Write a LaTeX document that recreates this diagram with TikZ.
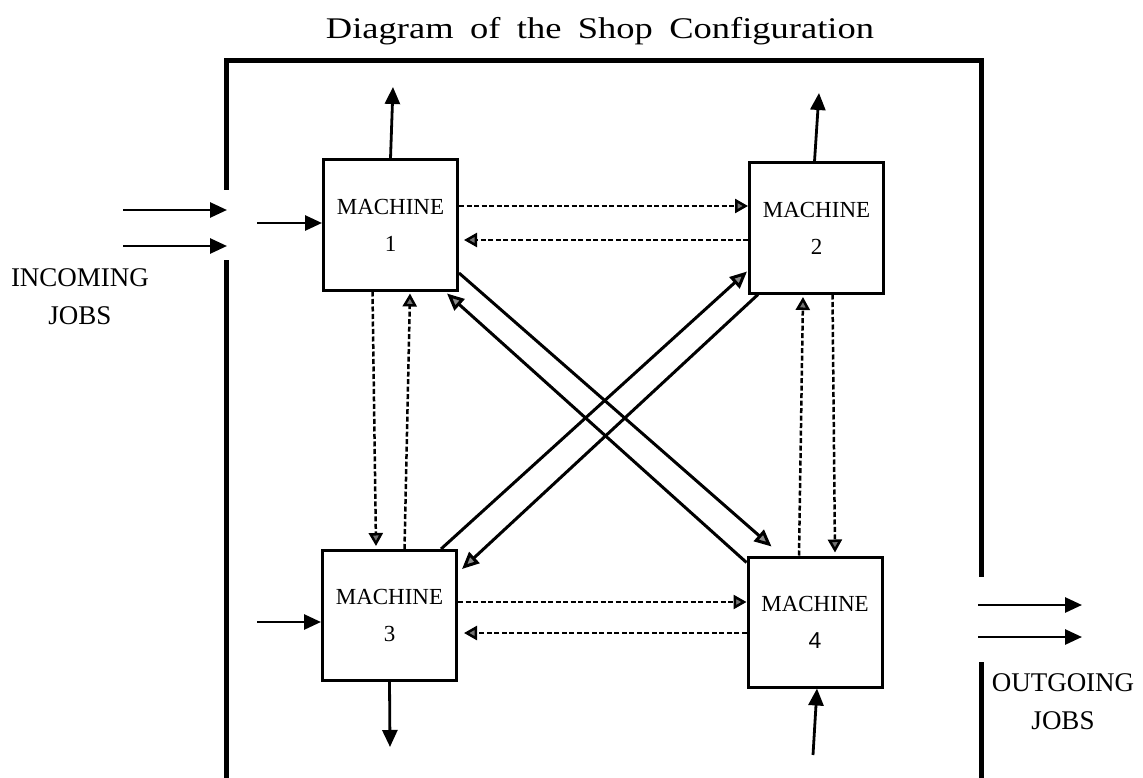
\documentclass[tikz,border=0pt]{standalone}
\usepackage{graphicx}
\usepackage{fontspec}
\setmainfont{Liberation Serif}
\newfontfamily\titlefont[WordSpace=1.8]{Liberation Serif}
\newfontfamily\sansdigit{Liberation Sans}
\usetikzlibrary{arrows.meta,calc}
\begin{document}
\begin{tikzpicture}[x=1pt,y=-1pt,
  machine/.style={draw,line width=3pt,minimum width=134pt,minimum height=130pt,inner sep=0pt,align=center,font=\fontsize{23}{37}\selectfont},
  frame/.style={line width=5pt,line join=miter},
  solidarrow/.style={line width=2.8pt,-{Triangle[length=17pt,width=15pt]}},
  dasharrow/.style={line width=2.5pt,dash pattern=on 5pt off 2.5pt,-{Triangle[length=13pt,width=14pt,fill=black!55]}},
  hatcharrow/.style={line width=3pt,-{Triangle[length=17pt,width=15pt,fill=black!45]}},
  label/.style={font=\fontsize{27}{27}\selectfont,inner sep=0pt}
]
\useasboundingbox (0,0) rectangle (1143,778);

% title
\node (title) at (600,31) {\titlefont\fontsize{30}{30}\selectfont\resizebox{548pt}{\height}{Diagram of the Shop Configuration}};

% frame
\draw[frame] (226,190) -- (226,61) -- (981,61) -- (981,577);
\draw[frame] (226,260) -- (226,780);
\draw[frame] (981,662) -- (981,780);

% machines
\node[machine] (m1) at (390.5,225) {MACHINE\\1};
\node[machine] (m2) at (816.5,228) {MACHINE\\2};
\node[machine] (m3) at (389.5,615.5) {MACHINE\\3};
\node[machine] (m4) at (815,622) {MACHINE\\{\sansdigit 4}};

% labels
\node[label] (inc) at (80,278) {INCOMING};
\node[label] (incj) at (80,316) {JOBS};
\node[label] (out) at (1063,683) {OUTGOING};
\node[label] (outj) at (1063,721) {JOBS};

% free ends
\coordinate (ia1) at (123,210); \coordinate (ib1) at (227,210);
\coordinate (ia2) at (123,246); \coordinate (ib2) at (227,246);
\coordinate (in1) at (257,223);
\coordinate (up1) at (393,87);
\coordinate (up2) at (819,93);
\coordinate (in3) at (257,622);
\coordinate (dn3) at (390,747);
\coordinate (in4) at (813,755);
\coordinate (oa1) at (978,605); \coordinate (ob1) at (1082,605);
\coordinate (oa2) at (978,637); \coordinate (ob2) at (1082,637);

% solid arrows
\draw[solidarrow] (ia1) -- (ib1);
\draw[solidarrow] (ia2) -- (ib2);
\draw[solidarrow] (in1) -- ($(m1.west)+(0,-2)$);
\draw[solidarrow] (m1.north) -- (up1);
\draw[solidarrow] ($(m2.north)+(-2,0)$) -- (up2);
\draw[solidarrow] (in3) -- ($(m3.west)+(0,6.5)$);
\draw[solidarrow] (m3.south) -- (dn3);
\draw[solidarrow] (in4) -- ($(m4.south)+(2,0)$);
\draw[solidarrow] (oa1) -- (ob1);
\draw[solidarrow] (oa2) -- (ob2);

% diagonal arrows
\draw[hatcharrow] ($(m1.east)+(0,48)$) -- ($(m4.north west)+(25,-9)$);
\draw[hatcharrow] ($(m4.north west)+(0,7)$) -- ($(m1.south east)+(-12,2)$);
\draw[hatcharrow] ($(m3.north east)+(-17,0)$) -- ($(m2.south west)+(-1,-23)$);
\draw[hatcharrow] ($(m2.south west)+(10,0)$) -- ($(m3.north east)+(4,20)$);

% dashed arrows
\draw[dasharrow] ($(m1.east)+(0,-19)$) -- ($(m2.west)+(0,-22)$);
\draw[dasharrow] ($(m2.west)+(0,12)$) -- ($(m1.east)+(5,15)$);
\draw[dasharrow] ($(m1.south)+(-18,0)$) -- ($(m3.north)+(-13.5,-3)$);
\draw[dasharrow] ($(m3.north)+(15,0)$) -- ($(m1.south)+(19.5,2)$);
\draw[dasharrow] ($(m2.south)+(16,0)$) -- ($(m4.north)+(20,-3)$);
\draw[dasharrow] ($(m4.north)+(-16,0)$) -- ($(m2.south)+(-13.5,2.5)$);
\draw[dasharrow] ($(m3.east)+(0,-13.5)$) -- ($(m4.west)+(0,-20)$);
\draw[dasharrow] ($(m4.west)+(0,11)$) -- ($(m3.east)+(6,17.5)$);
\end{tikzpicture}
\end{document}
